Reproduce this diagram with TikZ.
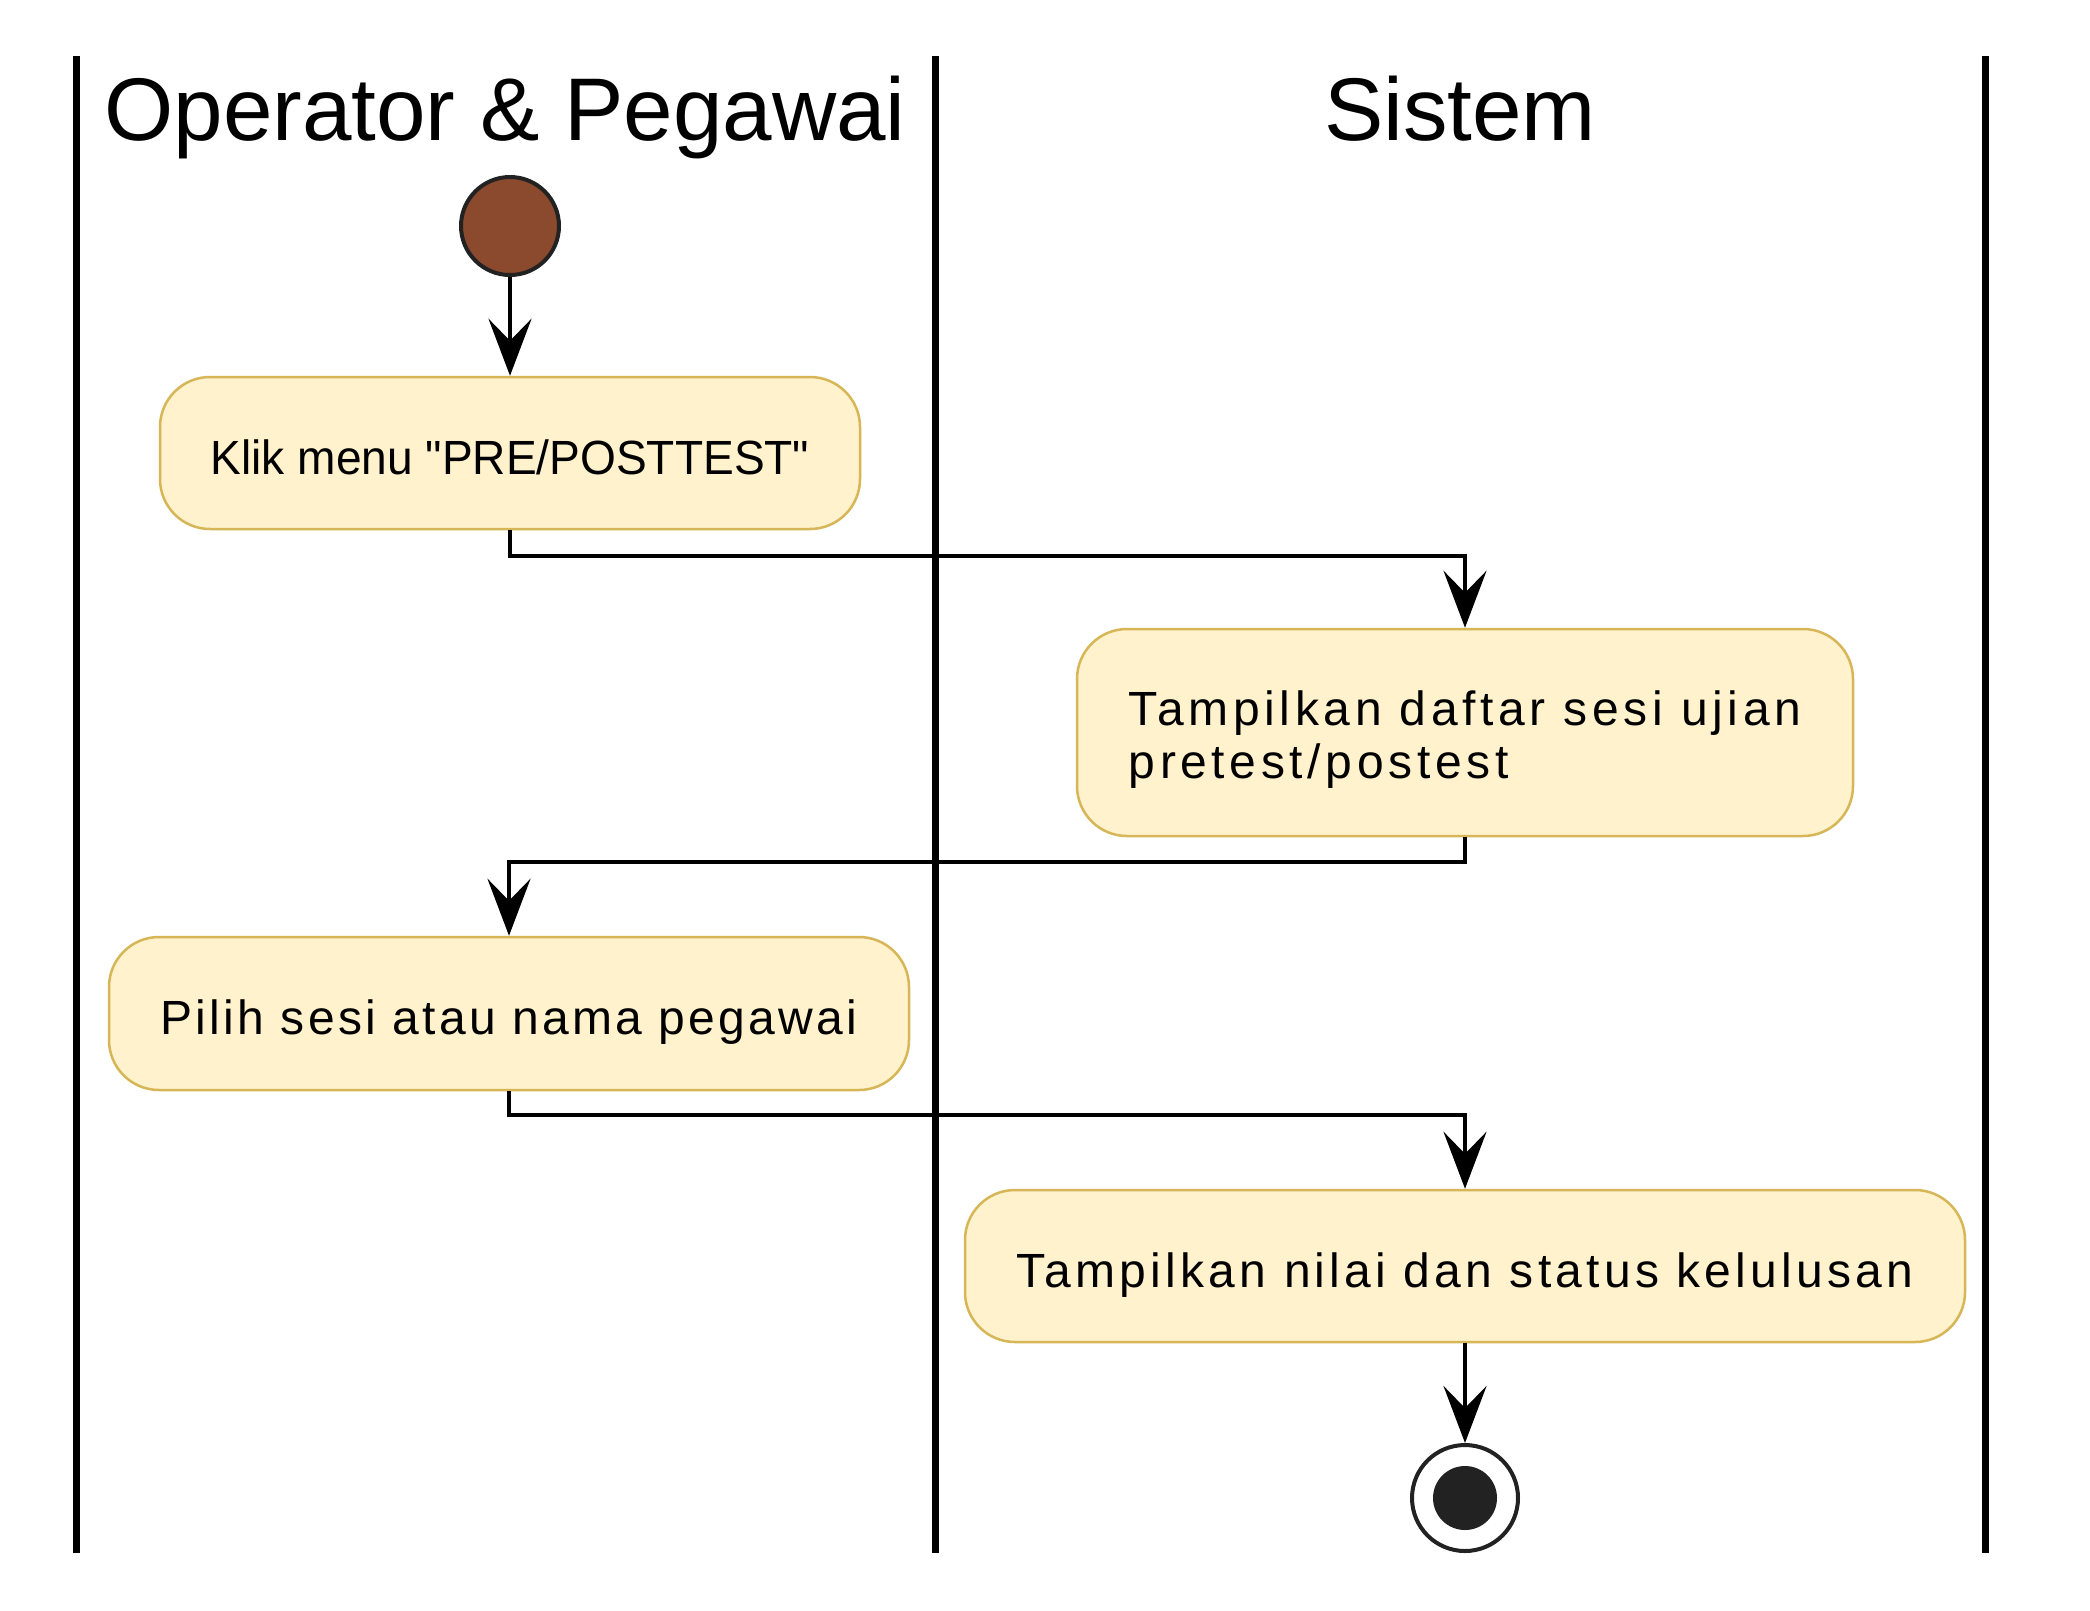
\documentclass[tikz,border=0pt]{standalone}
\usepackage{fontspec}
\setmainfont{Liberation Sans}
\newfontfamily\boxfonta[LetterSpace=9.7]{Liberation Sans}
\newfontfamily\boxfontb[LetterSpace=6.8]{Liberation Sans}
\newfontfamily\boxfontc[LetterSpace=8.8]{Liberation Sans}
\newfontfamily\plainbox[FakeStretch=0.96]{Liberation Sans}
\usetikzlibrary{arrows.meta}
\definecolor{boxfill}{HTML}{FFF2CC}
\definecolor{boxline}{HTML}{D6B656}
\definecolor{startfill}{HTML}{8B4A2D}
\definecolor{dark}{HTML}{222222}
\begin{document}
\begin{tikzpicture}[x=1pt,y=-1pt,
  lane/.style={line width=7pt,black},
  lanetitle/.style={font=\fontsize{89}{100}\selectfont,anchor=base},
  actbox/.style={draw=boxline,fill=boxfill,line width=2.5pt,rounded corners=50pt,
    inner sep=0pt},
  oneline/.style={text height=42pt,text depth=0pt},
  conn/.style={line width=4pt,black,-{Stealth[length=57pt,width=43pt,inset=22pt]}},
  startnode/.style={circle,draw=dark,fill=startfill,line width=4pt,minimum size=98pt,inner sep=0pt},
  endnode/.style={circle,draw=dark,fill=white,line width=4pt,minimum size=106pt,inner sep=0pt},
  enddot/.style={circle,fill=dark,minimum size=64pt,inner sep=0pt}]
\useasboundingbox[fill=white] (0,0) rectangle (2090,1610);
% lanes
\draw[lane] (76,56) -- (76,1553);
\draw[lane] (935,56) -- (935,1553);
\draw[lane] (1985,56) -- (1985,1553);
\node[lanetitle] (t1) at (505,140) {Operator \& Pegawai};
\node[lanetitle] (t2) at (1460,140) {Sistem};
% nodes
\node[startnode] (start) at (510,226) {};
\node[actbox,oneline,minimum width=700pt,minimum height=152pt,font=\plainbox\fontsize{48}{53}\selectfont] (b1) at (510,453) {Klik menu "PRE/POSTTEST"};
\node[actbox,minimum width=776pt,minimum height=207pt,text height=36pt,text depth=51pt,font=\boxfonta\fontsize{48}{53}\selectfont] (b2) at (1465,732.5) {\begin{tabular}[t]{@{}l@{}}Tampilkan daftar sesi ujian\\pretest/postest\end{tabular}};
\node[actbox,oneline,minimum width=800pt,minimum height=153pt,font=\boxfontb\fontsize{48}{53}\selectfont] (b3) at (509,1013.5) {Pilih sesi atau nama pegawai};
\node[actbox,oneline,minimum width=1000pt,minimum height=152pt,font=\boxfontc\fontsize{48}{53}\selectfont] (b4) at (1465,1266) {Tampilkan nilai dan status kelulusan};
\node[endnode] (end) at (1465,1498) {};
\node[enddot] (enddot) at (end.center) {};
% connectors
\draw[conn] (start.south) -- (b1.north);
\draw[conn] (b1.south) -- ++(0,25.5) -| (b2.north);
\draw[conn] (b2.south) -- ++(0,25) -| (b3.north);
\draw[conn] (b3.south) -- ++(0,24) -| (b4.north);
\draw[conn] (b4.south) -- (end.north);
\end{tikzpicture}
\end{document}
